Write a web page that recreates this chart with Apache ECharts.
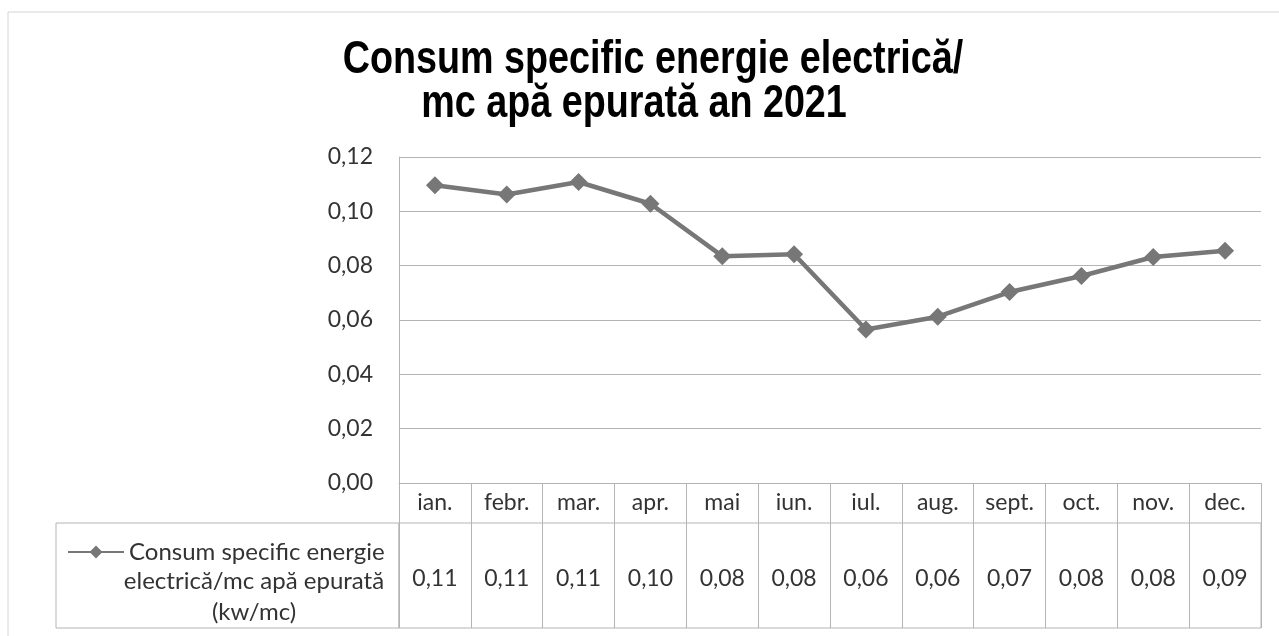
<!DOCTYPE html>
<html>
<head>
<meta charset="utf-8">
<title>Consum specific energie electrica</title>
<script src="https://cdn.jsdelivr.net/npm/echarts@6/dist/echarts.min.js"></script>
<style>
    html, body { margin: 0; padding: 0; background: #fff; }
    #main { width: 1279px; height: 636px; }
</style>
</head>
<body>
<div id="main"></div>
<script>
// date
var months = ['ian.', 'febr.', 'mar.', 'apr.', 'mai', 'iun.', 'iul.', 'aug.', 'sept.', 'oct.', 'nov.', 'dec.'];
var consum = [0.1096, 0.1062, 0.1108, 0.1028, 0.0835, 0.0842, 0.0565, 0.0612, 0.0703, 0.0762, 0.0832, 0.0855];
var yTicks = [0, 0.02, 0.04, 0.06, 0.08, 0.10, 0.12];
var titleLines = ['Consum specific energie electrică/', 'mc apă epurată an 2021'];
var legendLines = ['Consum specific energie', 'electrică/mc apă epurată', '(kw/mc)'];
var seriesName = legendLines.join(' ');

var gridColor = '#b4b4b4'
    , lineColor = '#777777'
    , textFont = 'Lato, "Open Sans", sans-serif'
    , fontSz = 23;

function virgula(v) {
    return Number(v).toFixed(2).replace('.', ',');
}

// titlul e ingust (Arial Narrow), il comprim pe orizontala
function titleText(txt, x, y) {
    return {
        type: 'text', silent: true, x: x, y: y, scaleX: 0.82,
        style: {
            text: txt, align: 'center', verticalAlign: 'middle',
            fontFamily: '"Liberation Sans", Arial, sans-serif',
            fontSize: 46, fontWeight: 'bold', fill: '#000'
        }
    };
}

function cellText(txt, y) {
    return {
        type: 'text', silent: true, x: 254, y: y,
        style: { text: txt, align: 'center', verticalAlign: 'middle',
            fontFamily: textFont, fontSize: 24, fill: '#333' }
    };
}

var myChart = echarts.init(document.getElementById('main'));
var option = {
    backgroundColor: '#fff',
    animation: false,
    legend: {
        data: [seriesName],
        left: 62,
        top: 535,
        itemWidth: 56,
        itemHeight: 16,
        selectedMode: false,
        formatter: function () { return legendLines[0]; },
        textStyle: { fontFamily: textFont, fontSize: 24, color: '#333' }
    },
    graphic: [
        {   // rama graficului
            type: 'rect', silent: true,
            shape: { x: 8, y: 12, width: 1300, height: 700 },
            style: { fill: 'none', stroke: '#d4d4d4', lineWidth: 1 }
        },
        titleText(titleLines[0], 653, 60),
        titleText(titleLines[1], 634, 104),
        {   // celula legendei din tabel
            type: 'rect', silent: true,
            shape: { x: 56, y: 523, width: 343, height: 105 },
            style: { fill: 'none', stroke: gridColor, lineWidth: 1 }
        },
        cellText(legendLines[1], 581),
        cellText(legendLines[2], 612)
    ],
    grid: [
        { left: 399, right: 18, top: 157, bottom: 153 },
        { left: 399, right: 18, top: 523, height: 105, show: true, borderColor: gridColor, borderWidth: 1 }
    ],
    xAxis: [
        {
            type: 'category',
            data: months,
            boundaryGap: true,
            axisLine: { show: true, lineStyle: { color: gridColor, width: 1 } },
            axisTick: { show: true, interval: 0, length: 40, lineStyle: { color: gridColor, width: 1 } },
            axisLabel: { interval: 0, margin: 8, fontFamily: textFont, fontSize: fontSz, color: '#333' }
        },
        {
            type: 'category',
            gridIndex: 1,
            data: months,
            boundaryGap: true,
            axisLine: { show: false },
            axisTick: { show: false },
            axisLabel: { show: false },
            splitLine: { show: true, interval: 0, lineStyle: { color: gridColor, width: 1 } }
        }
    ],
    yAxis: [
        {
            type: 'value',
            min: yTicks[0],
            max: yTicks[yTicks.length - 1],
            interval: 0.02,
            axisLine: { show: true, lineStyle: { color: gridColor, width: 1 } },
            axisTick: { show: false },
            splitLine: { lineStyle: { color: gridColor, width: 1 } },
            axisLabel: {
                margin: 26,
                fontFamily: textFont, fontSize: fontSz, color: '#333',
                formatter: function (v) { return virgula(v); }
            }
        },
        { type: 'value', gridIndex: 1, min: 0, max: 1, show: false }
    ],
    series: [
        {
            name: seriesName,
            type: 'line',
            data: consum,
            symbol: 'diamond',
            symbolSize: 18,
            lineStyle: { color: lineColor, width: 4.5 },
            itemStyle: { color: lineColor },
            z: 5
        },
        {   // randul cu valori din tabel
            type: 'custom',
            xAxisIndex: 1,
            yAxisIndex: 1,
            data: consum.map(function (v, i) { return [i, 0.5, v]; }),
            renderItem: function (params, api) {
                var p = api.coord([api.value(0), 0.5]);
                return {
                    type: 'text',
                    x: p[0],
                    y: p[1] + 3,
                    style: {
                        text: virgula(api.value(2)),
                        align: 'center',
                        verticalAlign: 'middle',
                        fontFamily: textFont,
                        fontSize: fontSz,
                        fill: '#333'
                    }
                };
            }
        }
    ]
};
myChart.setOption(option);
</script>
</body>
</html>
